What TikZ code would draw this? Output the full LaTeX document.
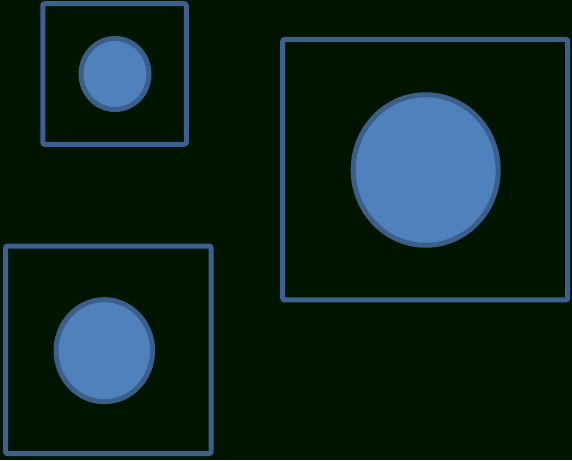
\documentclass[tikz,border=0pt]{standalone}
\usetikzlibrary{shapes.geometric}
\definecolor{bg}{RGB}{0,20,0}
\definecolor{frame}{RGB}{60,96,144}
\definecolor{discfill}{RGB}{79,129,189}
\definecolor{discline}{RGB}{58,95,139}
\tikzset{
  framebox/.style={draw=frame, line width=5pt, rounded corners=2pt, inner sep=0pt, outer sep=0pt, rectangle},
  disc/.style={draw=discline, fill=discfill, line width=5pt, ellipse, inner sep=0pt, outer sep=0pt}
}
\begin{document}
\begin{tikzpicture}[x=1pt,y=-1pt]
\fill[bg] (0,0) rectangle (572,460);
\useasboundingbox (0,0) rectangle (572,460);
\node[framebox, minimum width=143.5pt, minimum height=140.5pt] (f1) at (114.5,74) {};
\node[disc, minimum width=68pt, minimum height=71pt] (c1) at (115,74) {};
\node[framebox, minimum width=285pt, minimum height=260.5pt] (f2) at (425.2,169.7) {};
\node[disc, minimum width=145pt, minimum height=150.5pt] (c2) at (425.7,170) {};
\node[framebox, minimum width=205.5pt, minimum height=207.5pt] (f3) at (108.3,349.8) {};
\node[disc, minimum width=96.5pt, minimum height=102pt] (c3) at (104.3,350.7) {};
\end{tikzpicture}
\end{document}
